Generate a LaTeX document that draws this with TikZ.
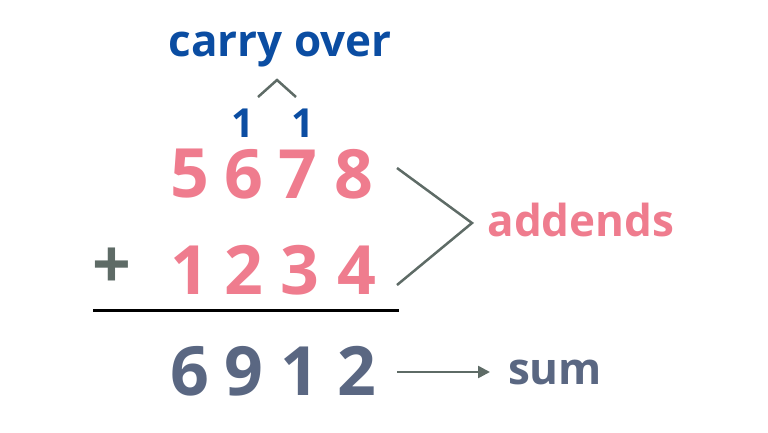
\documentclass[tikz,border=0pt]{standalone}
\usepackage{fontspec}
\setmainfont{Open Sans}
\usetikzlibrary{arrows.meta}
\definecolor{pk}{HTML}{EF7C8E}
\definecolor{bl}{HTML}{0B4DA2}
\definecolor{gb}{HTML}{5A6782}
\definecolor{gl}{HTML}{5E6B66}
\tikzset{
 dig/.style={font=\fontsize{68}{68}\selectfont\bfseries, inner sep=0pt, anchor=center},
 pkd/.style={dig, text=pk},
 gbd/.style={dig, text=gb},
 cd/.style={font=\fontsize{40}{40}\selectfont\bfseries, text=bl, inner sep=0pt},
 lbl/.style={font=\fontsize{44}{44}\selectfont\bfseries, inner sep=0pt},
 conn/.style={draw=gl, line width=2.5pt}
}
\begin{document}
\begin{tikzpicture}[x=1pt,y=-1pt]
\useasboundingbox (0,0) rectangle (768,432);
\node[lbl,text=bl] (co) at (280,50) {carry over};
\coordinate (c1) at (258,97); \coordinate (c2) at (277,80); \coordinate (c3) at (296,97);
\draw[conn] (c1) -- (c2) -- (c3);
\node[cd] (k1) at (243,123) {1};
\node[cd] (k2) at (303,123) {1};
\node[pkd] (a1) at (190,174) {5};
\node[pkd] (a2) at (244,174) {6};
\node[pkd] (a3) at (298,174) {7};
\node[pkd] (a4) at (354,174) {8};
\node[dig,text=gl] (pl) at (112,268) {+};
\node[pkd] (b1) at (190,270) {1};
\node[pkd] (b2) at (244,270) {2};
\node[pkd] (b3) at (300,270) {3};
\node[pkd] (b4) at (357,270) {4};
\coordinate (l1) at (93,310); \coordinate (l2) at (399,310);
\draw[black, line width=3pt] (l1) -- (l2);
\node[gbd] (s1) at (190,371) {6};
\node[gbd] (s2) at (244,371) {9};
\node[gbd] (s3) at (300,371) {1};
\node[gbd] (s4) at (357,371) {2};
\coordinate (t1) at (397,168); \coordinate (t2) at (472,223); \coordinate (t3) at (397,285);
\draw[conn] (t1) -- (t2) -- (t3);
\node[lbl,text=pk] (ad) at (581,220) {addends};
\coordinate (r1) at (397,372); \coordinate (r2) at (490,372);
\draw[conn, -{Triangle[length=12pt,width=12pt]}] (r1) -- (r2);
\node[lbl,text=gb] (sm) at (555,372) {sum};
\end{tikzpicture}
\end{document}
